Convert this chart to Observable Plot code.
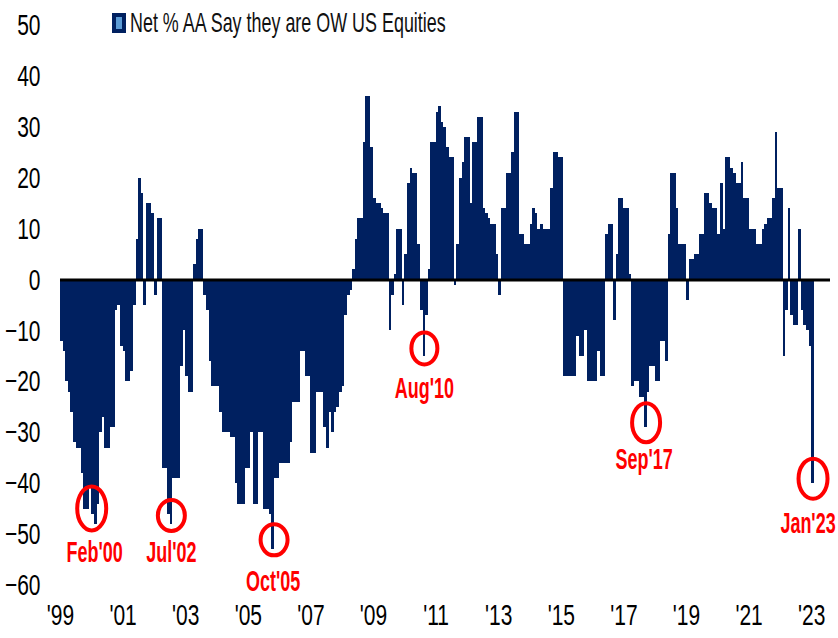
<!DOCTYPE html>
<html>
<head>
<meta charset="utf-8">
<script src="https://cdn.jsdelivr.net/npm/d3@7"></script>
<script src="https://cdn.jsdelivr.net/npm/@observablehq/plot@0.6"></script>
<style>
  body { margin: 0; background: #fff; }
  #wrap { position: relative; width: 838px; height: 638px; font-family: "Liberation Sans", Arial, sans-serif; }
  #legend-swatch { position: absolute; left: 112px; top: 13px; width: 14px; height: 20px; box-sizing: border-box; border: 4px solid #002060; background: #5b9bd5; }
  #legend-text { position: absolute; left: 130px; top: 9px; font-size: 28px; line-height: 28px; white-space: nowrap; transform: scaleX(0.64); transform-origin: 0 50%; color: #111; }
</style>
</head>
<body>
<div id="wrap">
  <div id="chart"></div>
  <div id="legend-swatch"></div>
  <div id="legend-text"></div>
</div>
<script>
// ---- DATA: monthly net % of asset allocators overweight US equities ----
const startYear = 1999;
const y1999 = [-12, -14, -20, -22, -26, -32, -33, -33, -38, -45, -45, -41];
const y2000 = [-46, -48, -44, -30, -27, -33, -33, -29, -29, -6, -5, -13];
const y2001 = [-14, -20, -20, -18, -5, 8, 20, 17, -5, 15, 15, 13];
const y2002 = [-3, 12, 12, -37, -37, -46, -48, -39, -39, -39, -17, -10];
const y2003 = [-19, -22, -22, 3, 8, 10, 10, -3, -6, -16, -21, -21];
const y2004 = [-21, -26, -30, -30, -30, -31, -31, -40, -44, -44, -44, -37];
const y2005 = [-37, -30, -44, -44, -30, -30, -45, -45, -46, -53, -39, -39];
const y2006 = [-36, -36, -36, -36, -32, -24, -24, -24, -14, -14, -19, -19];
const y2007 = [-34, -34, -22, -22, -22, -29, -33, -26, -30, -26, -25, -22];
const y2008 = [-21, -7, -3, -2, 2, 8, 12, 12, 27, 36, 36, 26];
const y2009 = [16, 15, 15, 14, 13, 13, -10, -3, 1, 10, 10, -5];
const y2010 = [5, 19, 22, 21, 21, 7, -6, -15, -7, 2, 27, 27];
const y2011 = [33, 34, 31, 30, 26, 24, 24, -1, 7, 20, 23, 28];
const y2012 = [28, 15, 27, 27, 32, 32, 14, 13, 12, 11, 11, 5];
const y2013 = [-3, 14, 14, 21, 21, 25, 33, 33, 9, 9, 7, 7];
const y2014 = [11, 14, 13, 10, 11, 10, 10, 10, 18, 25, 25, 24];
const y2015 = [24, -19, -19, -19, -19, -19, -11, -15, -15, -10, -20, -20];
const y2016 = [-20, -20, -14, -19, -19, 9, 11, 11, -8, 5, 16, 16];
const y2017 = [14, 14, 1, -21, -20, -20, -23, -23, -29, -22, -17, -17];
const y2018 = [-20, -20, -12, -12, -16, 9, 21, 21, 14, 7, 7, 7];
const y2019 = [-4, 4, 4, 5, 5, 9, 9, 17, 17, 15, 14, 14];
const y2020 = [9, 19, 10, 24, 24, 22, 21, 19, 19, 23, 16, 16];
const y2021 = [10, 10, 10, 7, 7, 10, 11, 12, 12, 16, 29, 18];
const y2022 = [18, -15, -6, 14, -7, -9, -9, 10, -6, -9, -10, -13];
const y2023 = [-40];

const seriesName = "Net % AA Say they are OW US Equities";
const xTicks = [1999, 2001, 2003, 2005, 2007, 2009, 2011, 2013, 2015, 2017, 2019, 2021, 2023];
const yTicks = [50, 40, 30, 20, 10, 0, -10, -20, -30, -40, -50, -60];

// annotated lows: label, year, month
const annLabels = ["Feb'00", "Jul'02", "Oct'05", "Aug'10", "Sep'17", "Jan'23"];
const annYears  = [2000, 2002, 2005, 2010, 2017, 2023];
const annMonths = [2, 7, 10, 8, 9, 1];

// ---- STYLE ----
const barColor = "#002060";
const red = "#ff0000";
// ring: rx, ry, pixel shift x, pixel shift y
const ringShape = [[14.5, 22, -4, -16], [13.5, 15.5, 0, -9], [13.5, 15.5, 1, -10], [13, 16, 0, -8], [14, 19.5, 0, -5], [14.5, 20, 0, -5]];
// label pixel shifts x, y
const labelShift = [[-1, -4], [0, -4], [0, 0], [0, 0], [-2, 0], [-5, 8]];

// ---- BUILD ----
const yearly = [y1999, y2000, y2001, y2002, y2003, y2004, y2005, y2006, y2007, y2008, y2009, y2010,
  y2011, y2012, y2013, y2014, y2015, y2016, y2017, y2018, y2019, y2020, y2021, y2022, y2023];
const netOW = yearly.flat();
const bars = netOW.map((v, i) => ({ x1: startYear + i / 12, x2: startYear + (i + 1) / 12, v }));
const ann = annLabels.map((label, i) => {
  const idx = (annYears[i] - startYear) * 12 + annMonths[i] - 1;
  return { label, x: startYear + (idx + 0.5) / 12, v: netOW[idx] };
});

document.getElementById("legend-text").textContent = seriesName;

const chart = Plot.plot({
  width: 838,
  height: 638,
  marginLeft: 60,
  marginRight: 8,
  marginTop: 25,
  marginBottom: 53,
  style: { fontFamily: "'Liberation Sans', Arial, sans-serif", fontSize: "30px", color: "#000", background: "#fff", overflow: "visible" },
  x: { domain: [1999, 2023.6], ticks: xTicks, tickFormat: d => "'" + String(d).slice(2), tickSize: 0, tickPadding: 18, label: null },
  y: { domain: [-60, 50], ticks: yTicks, tickSize: 0, tickPadding: 20, label: null },
  marks: [
    Plot.rectY(bars, { x1: "x1", x2: "x2", y: "v", fill: barColor, shapeRendering: "crispEdges" }),
    Plot.ruleY([0], { stroke: "#000", strokeWidth: 3 }),
    Plot.dot(ann, { x: "x", y: "v", r: 14, stroke: red, strokeWidth: 4, fill: "none" }),
    Plot.text(ann, { x: "x", y: "v", text: "label", dy: 32, fill: red, fontWeight: "bold", fontSize: 29 })
  ]
});
document.getElementById("chart").appendChild(chart);

// condense the text horizontally like the reference
const svg = chart.tagName.toLowerCase() === "svg" ? chart : chart.querySelector("svg");
svg.querySelectorAll("text").forEach(t => {
  const isAnn = t.closest('g[aria-label="text"]');
  const s = isAnn ? 0.62 : 0.7;
  const x = parseFloat(t.getAttribute("x")) || 0;
  const tr = t.getAttribute("transform") || "";
  t.setAttribute("transform", `${tr} translate(${x},0) scale(${s},1) translate(${-x},0)`);
});
svg.querySelectorAll('g[aria-label="text"] text').forEach((t, i) => {
  const [dx, dy] = labelShift[i];
  t.setAttribute("transform", `translate(${dx},${dy}) ` + (t.getAttribute("transform") || ""));
});
// turn the rings into ellipses
svg.querySelectorAll('g[aria-label="dot"] circle').forEach((c, i) => {
  const e = document.createElementNS("http://www.w3.org/2000/svg", "ellipse");
  for (const a of Array.from(c.attributes)) if (a.name !== "r") e.setAttribute(a.name, a.value);
  const [rx, ry, dx, dy] = ringShape[i];
  e.setAttribute("rx", rx);
  e.setAttribute("ry", ry);
  e.setAttribute("cx", parseFloat(c.getAttribute("cx")) + dx);
  e.setAttribute("cy", parseFloat(c.getAttribute("cy")) + dy);
  c.replaceWith(e);
});
</script>
</body>
</html>
